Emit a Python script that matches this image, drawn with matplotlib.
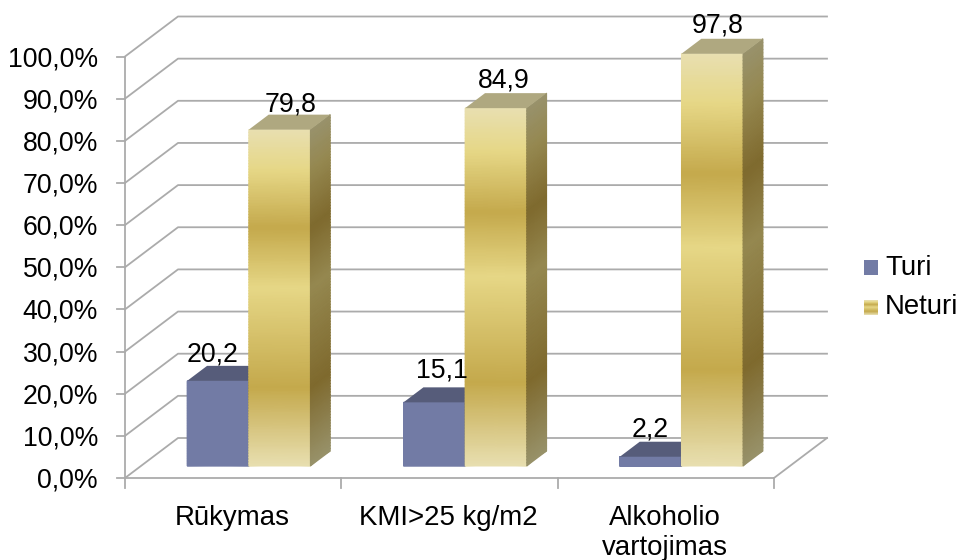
import numpy as np
import matplotlib
matplotlib.use('Agg')
import matplotlib.pyplot as plt
from matplotlib.colors import LinearSegmentedColormap

# Data
categories = ['Rūkymas', 'KMI>25 kg/m2', 'Alkoholio\nvartojimas']
turi = [20.2, 15.1, 2.2]
neturi = [79.8, 84.9, 97.8]
y_ticks = [0, 10, 20, 30, 40, 50, 60, 70, 80, 90, 100]

plt.rcParams['font.family'] = ['Liberation Sans', 'DejaVu Sans']
FS = 19.2
FS_CAT = 19.9

W, H = 961, 560
X_UNIT = 216.33   # pixels per category
Y_UNIT = 4.215    # pixels per percent
X0, Y0 = 125, 478 # corner of the front of the floor

# Depth of the 3D box and where the bars sit in it
DX = 53 / X_UNIT
DY = 40 / Y_UNIT
BAR_FRONT = 0.30
BAR_BACK = 0.675
BAR_W = 61.6 / X_UNIT
BAR_GAP = 46.3 / X_UNIT

GRID = '#ababab'

gold_stops = [0, 0.233, 0.53, 0.71, 0.88, 1]
gold_front = LinearSegmentedColormap.from_list(
    'gold_front', list(zip(gold_stops, ['#e8dfb0', '#c4a94c', '#e6d786', '#c4a94c', '#e6d786', '#e8dfb0'])))
gold_side = LinearSegmentedColormap.from_list(
    'gold_side', list(zip(gold_stops, ['#98926a', '#7f6a2e', '#958850', '#7f6a2e', '#958850', '#98926c'])))


def px(x, y):
    # pixel position in the figure -> data coordinates
    return (x - X0) / X_UNIT, (Y0 - y) / Y_UNIT


fig = plt.figure(figsize=(W / 100, H / 100), dpi=100)
ax = fig.add_axes([0, 0, 1, 1])
ax.set_xlim(px(0, 0)[0], px(W, 0)[0])
ax.set_ylim(px(0, H)[1], px(0, 0)[1])
ax.axis('off')

n_cat = len(categories)

# Walls and floor
for v in y_ticks:
    ax.plot([0, DX, n_cat + DX], [v, v + DY, v + DY], color=GRID, lw=1.3, zorder=1)
    ax.plot([-8 / X_UNIT, 0], [v, v], color=GRID, lw=1.3, zorder=1)
    ax.text(px(98, 0)[0], v - 0.6, f'{v},0%', ha='right', va='center', fontsize=FS)
ax.plot([0, 0], [0, 100], color=GRID, lw=1.3, zorder=1)
ax.plot([0, n_cat, n_cat + DX], [0, 0, DY], color=GRID, lw=1.3, zorder=1)
for i in range(n_cat + 1):
    ax.plot([i, i], [0, -10 / Y_UNIT], color=GRID, lw=1.3, zorder=1)


def draw_bar(x, value, zo, front, side, top):
    x0, x1 = x + BAR_FRONT * DX, x + BAR_W + BAR_FRONT * DX
    b0 = BAR_FRONT * DY
    dx, dy = (BAR_BACK - BAR_FRONT) * DX, (BAR_BACK - BAR_FRONT) * DY
    for gx, gy, cm in [
        (np.array([[x0, x1], [x0, x1]]), np.array([[b0, b0], [b0 + value, b0 + value]]), front),
        (np.array([[x1, x1 + dx], [x1, x1 + dx]]), np.array([[b0, b0 + dy], [b0 + value, b0 + dy + value]]), side),
    ]:
        # fine rows so the colour stops stay sharp along the height
        rows = np.linspace(0, 1, 120)
        mx = np.outer(np.ones_like(rows), gx[0])
        my = np.outer(1 - rows, gy[0]) + np.outer(rows, gy[1])
        ax.pcolormesh(mx, my, np.outer(rows, np.ones(2)), cmap=cm, vmin=0, vmax=1,
                      shading='gouraud', zorder=zo)
    ax.fill([x0, x1, x1 + dx, x0 + dx], [b0 + value, b0 + value, b0 + value + dy, b0 + value + dy],
            color=top, lw=0, zorder=zo)


turi_front = LinearSegmentedColormap.from_list('turi_front', ['#727ba5', '#727ba5'])
turi_side = LinearSegmentedColormap.from_list('turi_side', ['#565c7a', '#565c7a'])

# Label shifts in pixels from the middle of each bar front
turi_shift = [-5, 8, 0]
neturi_shift = [11, 8, 5.5]
turi_rise = [11, 17, 12]
neturi_rise = [10, 13, 13]

for i in range(n_cat):
    x_t = i + BAR_GAP
    x_n = x_t + BAR_W
    draw_bar(x_t, turi[i], 3 + i * 2, turi_front, turi_side, '#565c7a')
    draw_bar(x_n, neturi[i], 4 + i * 2, gold_front, gold_side, '#afa880')

    top_y = BAR_BACK * DY
    ax.text(x_t + BAR_FRONT * DX + BAR_W / 2 + turi_shift[i] / X_UNIT,
            turi[i] + top_y + turi_rise[i] / Y_UNIT, str(turi[i]).replace('.', ','),
            ha='center', va='center', fontsize=FS, zorder=20)
    ax.text(x_n + BAR_FRONT * DX + BAR_W / 2 + neturi_shift[i] / X_UNIT,
            neturi[i] + top_y + neturi_rise[i] / Y_UNIT, str(neturi[i]).replace('.', ','),
            ha='center', va='center', fontsize=FS, zorder=20)

    ax.text(i + 0.5 - 1 / X_UNIT, -27 / Y_UNIT, categories[i], ha='center', va='top', fontsize=FS_CAT,
            linespacing=1.18, clip_on=False)

# Legend
sx0, sx1 = px(864, 0)[0], px(878, 0)[0]
y0, y1 = px(0, 275)[1], px(0, 260)[1]
ax.fill([sx0, sx1, sx1, sx0], [y0, y0, y1, y1], color='#727ba5', lw=0)
y0, y1 = px(0, 315.5)[1], px(0, 301)[1]
ax.imshow(np.linspace(0, 1, 30)[:, None], origin='lower', extent=[sx0, sx1, y0, y1], cmap=gold_front,
          aspect='auto', zorder=2)
ax.set_xlim(px(0, 0)[0], px(W, 0)[0])
ax.set_ylim(px(0, H)[1], px(0, 0)[1])
ax.text(*px(885, 268), 'Turi', ha='left', va='center', fontsize=FS_CAT)
ax.text(*px(885, 307), 'Neturi', ha='left', va='center', fontsize=FS_CAT)

fig.savefig('out.png', dpi=100)
